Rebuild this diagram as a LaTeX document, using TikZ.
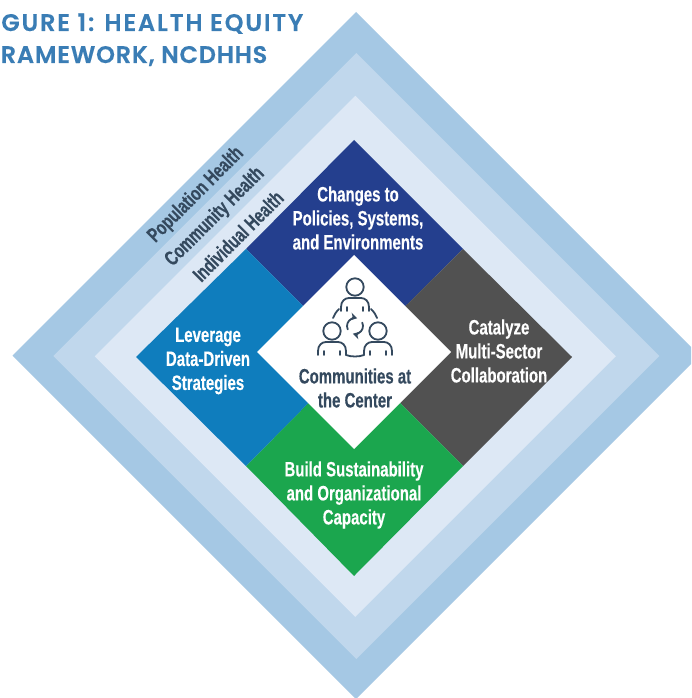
\documentclass[tikz,border=0pt]{standalone}
\usepackage{fontspec}
\usetikzlibrary{arrows.meta}
\setmainfont{Liberation Sans}
\newfontfamily\condfont[FakeStretch=0.72,BoldFeatures={FakeBold=0.3}]{Liberation Sans}
\newfontfamily\titlefont[LetterSpace=7.5,FakeBold=0.2]{Poppins SemiBold}
\newfontfamily\titlefonttwo[LetterSpace=3.2,FakeBold=0.2]{Poppins SemiBold}
\definecolor{ringa}{HTML}{A5C8E4}
\definecolor{ringb}{HTML}{C0D7EC}
\definecolor{ringc}{HTML}{DDE8F5}
\definecolor{navyq}{HTML}{243F8E}
\definecolor{blueq}{HTML}{0F7DBD}
\definecolor{greyq}{HTML}{515151}
\definecolor{greenq}{HTML}{1BA64E}
\definecolor{slatetx}{HTML}{34495E}
\definecolor{titleblue}{HTML}{3A7DB5}
\tikzset{
  ptgrid/.style={x=0.75pt,y=-0.75pt},
  quadlabel/.style={text=white,align=center,font=\condfont\bfseries\fontsize{15.6}{18}\selectfont},
  ringlabel/.style={text=slatetx,rotate=45,font=\condfont\bfseries\fontsize{15.4}{17}\selectfont},
  titletext/.style={text=titleblue,anchor=base east,font=\titlefont\fontsize{18}{20}\selectfont},
  titletexttwo/.style={text=titleblue,anchor=base east,font=\titlefonttwo\fontsize{18}{20}\selectfont},
  icon/.style={draw=slatetx,line width=1.35pt,line cap=round,fill=none}
}
\newcommand{\diamondshape}[4]{\fill[#1] (#2,#3-#4) -- (#2+#4,#3) -- (#2,#3+#4) -- (#2-#4,#3) -- cycle;}
\newcommand{\bustshape}[2]{% x centre, y centre of head
  \draw[icon] (#1,#2) circle (8.7);
  \draw[icon] (#1-14,#2+24) -- (#1-14,#2+20) .. controls (#1-14,#2+14) and (#1-10,#2+11) .. (#1-6,#2+11) -- (#1+6,#2+11) .. controls (#1+10,#2+11) and (#1+14,#2+14) .. (#1+14,#2+20) -- (#1+14,#2+24);
  \draw[icon] (#1-8,#2+20) -- (#1-8,#2+24);
  \draw[icon] (#1+8,#2+20) -- (#1+8,#2+24);
}
\begin{document}
\begin{tikzpicture}[ptgrid]
\useasboundingbox (0,0) rectangle (691,698);
\clip (0,0) rectangle (691,698);
\fill[white] (0,0) rectangle (691,698);
\diamondshape{ringa}{356}{355.5}{343.5}
\diamondshape{ringb}{356.3}{356}{303}
\diamondshape{ringc}{355.3}{356.3}{260.5}
\fill[navyq] (354,140) -- (463,249) -- (354,357) -- (246,249) -- cycle;
\fill[greyq] (463,249) -- (572,357) -- (463,466) -- (354,357) -- cycle;
\fill[greenq] (354,357) -- (463,466) -- (354,576) -- (246,466) -- cycle;
\fill[blueq] (246,249) -- (354,357) -- (246,466) -- (136,357) -- cycle;
\fill[white] (354,255) -- (451,352) -- (354,449) -- (257,352) -- cycle;
\node[titletext] (titleone) at (308,31) {FIGURE 1: HEALTH EQUITY};
\node[titletexttwo] (titletwo) at (272,63) {FRAMEWORK, NCDHHS};
\node[ringlabel] (pop) at (196,195) {Population Health};
\node[ringlabel] (com) at (215,217) {Community Health};
\node[ringlabel] (ind) at (238,236) {Individual Health};
\node[quadlabel] (top) at (358,218) {Changes to\\Policies, Systems,\\and Environments};
\node[quadlabel] (rgt) at (499,351) {Catalyze\\Multi-Sector\\Collaboration};
\node[quadlabel] (bot) at (354,495) {Build Sustainability\\and Organizational\\Capacity};
\node[quadlabel] (lft) at (208,361) {Leverage\\Data-Driven\\Strategies};
\node[quadlabel,text=slatetx] (ctr) at (355,388) {Communities at\\the Center};
\bustshape{355}{287}
\bustshape{332}{331}
\bustshape{378}{331}
\draw[icon] (346,355) .. controls (351,357) and (359,357) .. (364,355);
\draw[icon] (339,309) .. controls (336,312) and (334,315) .. (333,318);
\draw[icon] (371,309) .. controls (374,312) and (376,315) .. (377,318);
\draw[icon,-{Stealth[length=5pt,width=6pt]}] (347.75,329.4) arc (155:285:8);
\draw[icon,-{Stealth[length=5pt,width=6pt]}] (362.25,322.6) arc (335:465:8);
\end{tikzpicture}
\end{document}
